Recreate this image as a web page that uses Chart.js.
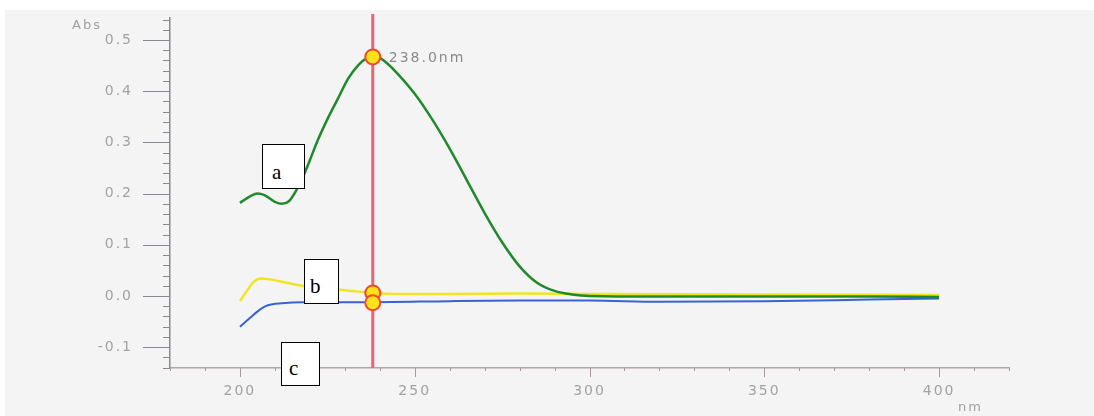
<!DOCTYPE html>
<html>
<head>
<meta charset="utf-8">
<script src="https://cdn.jsdelivr.net/npm/chart.js@4/dist/chart.umd.min.js"></script>
<style>
  html, body { margin: 0; padding: 0; background: #ffffff; }
  #wrap { position: relative; width: 1094px; height: 416px; overflow: hidden; }
  #bg { position: absolute; left: 5px; top: 10px; width: 1089px; height: 406px; background: #f4f4f4; }
  canvas { position: absolute; left: 0; top: 0; }
  .box { position: absolute; background: #ffffff; border: 1.5px solid #000; box-sizing: border-box;
         font-family: "Liberation Serif", "Times New Roman", serif; font-size: 21px; color: #000;
         padding-left: 9px; line-height: 1; }
</style>
</head>
<body>
<div id="wrap">
  <div id="bg"></div>
  <canvas id="c" width="1094" height="416"></canvas>
  <div class="box" style="left:262px;top:144px;width:43px;height:45px;padding-top:17px;">a</div>
  <div class="box" style="left:304px;top:259px;width:35px;height:45px;padding-top:16px;padding-left:5px;">b</div>
  <div class="box" style="left:281px;top:342px;width:39px;height:44px;padding-top:15px;padding-left:7px;">c</div>
</div>
<script>
// ---- Data ----
const greenNm  = [200, 203, 205, 207, 210, 212, 214, 216, 218, 220, 222, 225, 228, 231, 234, 236, 238, 240, 242, 245, 250, 255, 260, 265, 270, 275, 280, 285, 290, 295, 300, 320, 350, 380, 400];
const greenAbs = [0.182, 0.195, 0.200, 0.197, 0.184, 0.180, 0.185, 0.205, 0.232, 0.265, 0.300, 0.345, 0.385, 0.425, 0.452, 0.463, 0.467, 0.465, 0.455, 0.435, 0.395, 0.345, 0.288, 0.225, 0.162, 0.105, 0.058, 0.026, 0.010, 0.003, 0.000, -0.001, -0.001, -0.001, -0.002];

const yellowNm  = [200, 202, 204, 206, 208, 212, 216, 220, 226, 232, 238, 245, 260, 280, 300, 350, 400];
const yellowAbs = [-0.010, 0.010, 0.028, 0.034, 0.033, 0.028, 0.022, 0.018, 0.014, 0.010, 0.006, 0.004, 0.004, 0.005, 0.004, 0.003, 0.002];

const blueNm  = [200, 202, 204, 206, 208, 212, 218, 230, 238, 260, 280, 300, 320, 350, 380, 400];
const blueAbs = [-0.060, -0.048, -0.036, -0.025, -0.018, -0.014, -0.012, -0.012, -0.012, -0.010, -0.009, -0.009, -0.011, -0.010, -0.007, -0.005];

const markerNm  = [238, 238, 238];
const markerAbs = [0.467, 0.006, -0.013];
const cursorNm = 238;
const cursorLabel = "238.0nm";

const xMin = 180, xMax = 420, xMinorStep = 10, xMajorStep = 50;
const yMin = -0.1406, yMax = 0.543, yMinorStep = 0.02, yMajorStep = 0.1;
const yTickLabels = ["-0.1", "0.0", "0.1", "0.2", "0.3", "0.4", "0.5"];
const xTickLabels = ["200", "250", "300", "350", "400"];

function pts(xs, ys) { return xs.map((x, i) => ({ x: x, y: ys[i] })); }

const FONT = '"DejaVu Sans", "Liberation Sans", Arial, sans-serif';
const TXT = '#a2a2a2';

const tickPlugin = {
  id: 'spectroTicks',
  beforeDraw(chart) {
    chart.ctx.letterSpacing = '2px';
  },
  beforeDatasetsDraw(chart) {
    const ctx = chart.ctx, xs = chart.scales.x, ys = chart.scales.y;
    ctx.save();
    ctx.letterSpacing = '0px';
    // y ticks
    ctx.strokeStyle = '#8c8690';
    ctx.lineWidth = 1;
    for (let i = 0; ; i++) {
      const v = -0.14 + i * yMinorStep;
      if (v > yMax + 1e-9) break;
      const major = Math.abs(Math.round(v * 10) - v * 10) < 1e-6;
      const py = Math.round(ys.getPixelForValue(v)) + 0.5;
      ctx.beginPath();
      ctx.moveTo(xs.left - (major ? 27 : 7), py);
      ctx.lineTo(xs.left, py);
      ctx.stroke();
    }
    // x ticks
    ctx.strokeStyle = '#a898a4';
    for (let v = xMin; v <= xMax; v += xMinorStep) {
      const major = v % xMajorStep === 0;
      const px = Math.round(xs.getPixelForValue(v)) + 0.5;
      ctx.beginPath();
      ctx.moveTo(px, ys.bottom);
      ctx.lineTo(px, ys.bottom + (major ? 9 : 3));
      ctx.stroke();
    }
    // cursor line
    const cx = xs.getPixelForValue(cursorNm);
    ctx.strokeStyle = '#e8647e';
    ctx.lineWidth = 3;
    ctx.beginPath();
    ctx.moveTo(cx, 14);
    ctx.lineTo(cx, ys.bottom);
    ctx.stroke();
    // axis captions
    ctx.fillStyle = TXT;
    ctx.font = '13px ' + FONT;
    ctx.letterSpacing = '2px';
    ctx.textBaseline = 'middle';
    ctx.textAlign = 'left';
    ctx.fillText('Abs', 72, 26);
    ctx.fillText('nm', 958, 408);
    ctx.restore();
  },
  afterDatasetsDraw(chart) {
    const ctx = chart.ctx, xs = chart.scales.x, ys = chart.scales.y;
    ctx.save();
    ctx.fillStyle = '#8a8a8a';
    ctx.font = '14px ' + FONT;
    ctx.letterSpacing = '2px';
    ctx.textBaseline = 'middle';
    ctx.textAlign = 'left';
    ctx.fillText(cursorLabel, xs.getPixelForValue(cursorNm) + 16, ys.getPixelForValue(markerAbs[0]) + 1);
    ctx.restore();
  },
  afterDraw(chart) {
    chart.ctx.letterSpacing = '0px';
  }
};

function zeroPad(s) { s.paddingTop = 0; s.paddingBottom = 0; s.paddingLeft = 0; s.paddingRight = 0; }

new Chart(document.getElementById('c'), {
  type: 'line',
  data: {
    datasets: [
      { label: 'markers', data: pts(markerNm, markerAbs), showLine: false, order: -1,
        pointRadius: 7.5, pointBackgroundColor: '#ffe21a', pointBorderColor: '#f04a2a', pointBorderWidth: 2, clip: false },
      { label: 'a', data: pts(greenNm, greenAbs), borderColor: '#1f8a2c', borderWidth: 2.5, pointRadius: 0, cubicInterpolationMode: 'monotone', order: 1 },
      { label: 'b', data: pts(yellowNm, yellowAbs), borderColor: '#f2e420', borderWidth: 2.5, pointRadius: 0, cubicInterpolationMode: 'monotone', order: 2 },
      { label: 'c', data: pts(blueNm, blueAbs), borderColor: '#3a62d4', borderWidth: 2, pointRadius: 0, cubicInterpolationMode: 'monotone', order: 3 }
    ]
  },
  options: {
    responsive: false,
    animation: false,
    events: [],
    layout: { autoPadding: false, padding: { left: 0, top: 18, right: 85, bottom: 0 } },
    plugins: { legend: { display: false }, tooltip: { enabled: false }, title: { display: false } },
    scales: {
      x: {
        type: 'linear', min: xMin, max: xMax,
        afterFit(s) { s.height = 48; zeroPad(s); },
        border: { display: true, color: '#b4a2ae', width: 1.5 },
        grid: { display: true, drawOnChartArea: false, drawTicks: false },
        ticks: {
          stepSize: xMinorStep, autoSkip: false, maxRotation: 0, padding: 15,
          color: TXT, font: { family: FONT, size: 14 },
          callback(v) { const s = String(Math.round(v)); return xTickLabels.includes(s) ? s : ''; }
        }
      },
      y: {
        type: 'linear', min: yMin, max: yMax,
        afterFit(s) { s.width = 170; zeroPad(s); },
        afterBuildTicks(s) {
          const t = [];
          for (let i = 0; i <= 34; i++) { const v = +(-0.14 + i * yMinorStep).toFixed(2); if (v <= yMax) t.push({ value: v }); }
          s.ticks = t;
        },
        border: { display: true, color: '#8c8690', width: 1.5 },
        grid: { display: true, drawOnChartArea: false, drawTicks: false },
        ticks: {
          autoSkip: false, padding: 37,
          color: TXT, font: { family: FONT, size: 14 },
          callback(v) { const s = (Math.round(v * 10) / 10).toFixed(1); return (Math.abs(v * 10 - Math.round(v * 10)) < 1e-6 && yTickLabels.includes(s)) ? s : ''; }
        }
      }
    }
  },
  plugins: [tickPlugin]
});
</script>
</body>
</html>
